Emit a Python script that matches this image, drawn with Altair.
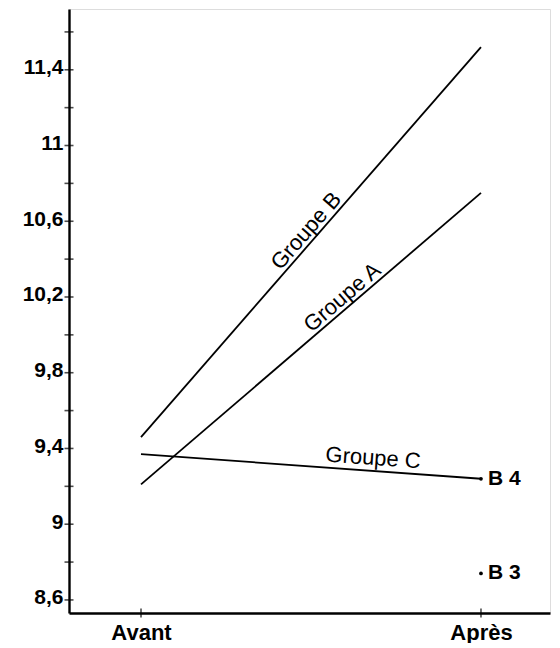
import math
import altair as alt
import pandas as pd

# ---- data ----
periods = ["Avant", "Après"]
groups = ["Groupe A", "Groupe B", "Groupe C"]
avant_values = [9.21, 9.46, 9.37]
apres_values = [10.75, 11.52, 9.24]

point_labels = ["B 4", "B 3"]
point_values = [9.24, 8.74]

y_labelled_ticks = [8.6, 9.0, 9.4, 9.8, 10.2, 10.6, 11.0, 11.4]
y_minor_ticks = [8.8, 9.2, 9.6, 10.0, 10.4, 10.8, 11.2, 11.6]

# label placement (fraction along the x axis, offset above line)
label_pos = [0.613, 0.51, 0.68]
label_dy = [-4, -4, -6]

# ---- layout ----
W, H = 481, 604
x_dom = [-0.2118, 1.203]
y_dom = [8.531, 11.721]
xpx = W / (x_dom[1] - x_dom[0])
ypx = H / (y_dom[1] - y_dom[0])
FONT = "Liberation Sans"

x_scale = alt.Scale(domain=x_dom, nice=False, zero=False)
y_scale = alt.Scale(domain=y_dom, nice=False, zero=False)

rows = []
for g, a, b in zip(groups, avant_values, apres_values):
    rows.append({"group": g, "x": 0, "value": a})
    rows.append({"group": g, "x": 1, "value": b})
lines_df = pd.DataFrame(rows)

pts_df = pd.DataFrame({"label": point_labels, "x": [1, 1], "value": point_values})
yt_df = pd.DataFrame({"value": y_labelled_ticks + y_minor_ticks})
xt_df = pd.DataFrame({"x": [0, 1]})

label_expr_x = "datum.value == 0 ? '%s' : (datum.value == 1 ? '%s' : '')" % (periods[0], periods[1])

base_x = alt.X(
    "x:Q", scale=x_scale,
    axis=alt.Axis(values=[0, 1], labelExpr=label_expr_x, title=None, grid=False,
                  ticks=False, domainColor="black", domainWidth=2.4,
                  labelFont=FONT, labelFontSize=22, labelFontWeight="bold",
                  labelColor="black", labelPadding=9, labelFlush=False),
)
base_y = alt.Y(
    "value:Q", scale=y_scale,
    axis=alt.Axis(values=y_labelled_ticks,
                  labelExpr="replace(format(datum.value, '~g'), '.', ',')",
                  title=None, grid=False, ticks=False, domainColor="black",
                  domainWidth=2.4, labelFont=FONT, labelFontSize=21,
                  labelFontWeight="bold", labelColor="black", labelPadding=6,
                  labelOffset=-2, labelFlush=False),
)

lines = alt.Chart(lines_df).mark_line(color="black", strokeWidth=1.8).encode(
    x=base_x, y=base_y, detail="group:N"
)

text_layers = []
for g, a, b, t, d in zip(groups, avant_values, apres_values, label_pos, label_dy):
    ang = -math.degrees(math.atan((b - a) * ypx / xpx)) % 360
    df = pd.DataFrame({"group": [g], "x": [t], "value": [a + t * (b - a)]})
    text_layers.append(
        alt.Chart(df).mark_text(
            font=FONT, fontSize=22, color="black", align="center",
            baseline="alphabetic", angle=ang, dy=d
        ).encode(
            x=alt.X("x:Q", scale=x_scale),
            y=alt.Y("value:Q", scale=y_scale),
            text="group:N",
        )
    )

pts = alt.Chart(pts_df).mark_point(filled=True, color="black", size=14, opacity=1).encode(
    x=alt.X("x:Q", scale=x_scale), y=alt.Y("value:Q", scale=y_scale)
)
pts_text = alt.Chart(pts_df).mark_text(
    font=FONT, fontSize=21, fontWeight="bold", color="black", align="left",
    baseline="middle", dx=7
).encode(
    x=alt.X("x:Q", scale=x_scale), y=alt.Y("value:Q", scale=y_scale), text="label:N"
)

yticks = alt.Chart(yt_df).mark_tick(orient="horizontal", color="black", size=9, thickness=1.6).encode(
    x=alt.value(0), y=alt.Y("value:Q", scale=y_scale)
)
xticks = alt.Chart(xt_df).mark_tick(orient="vertical", color="black", size=9, thickness=1.6).encode(
    x=alt.X("x:Q", scale=x_scale), y=alt.value(H)
)

chart = alt.layer(lines, *text_layers, pts, pts_text, yticks, xticks).properties(
    width=W, height=H,
    autosize=alt.AutoSizeParams(type="none"),
    padding={"left": 61, "top": 1, "right": 2, "bottom": 30},
).configure_view(stroke=None).configure(background="white")

chart.save("out.html", embed_options={"renderer": "svg", "actions": False})
